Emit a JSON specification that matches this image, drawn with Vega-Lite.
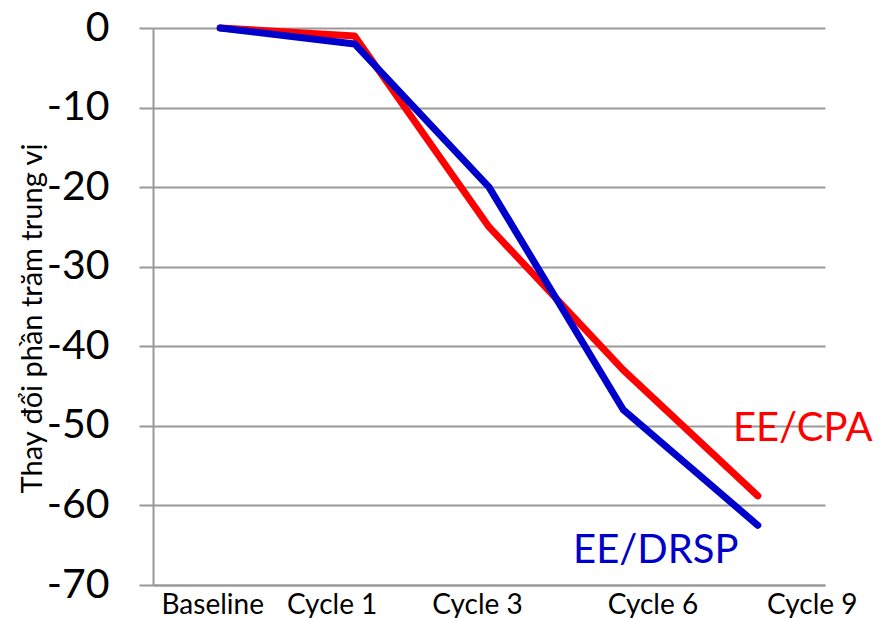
{
  "$schema": "https://vega.github.io/schema/vega-lite/v6.json",
  "autosize": "none",
  "width": 672,
  "height": 557,
  "padding": {"left": 153, "top": 28, "right": 59, "bottom": 33},
  "background": "white",
  "config": {
    "font": "Lato",
    "view": {"stroke": null}
  },
  "data": {
    "values": [
      {"cycle": "Baseline", "series": "EE/CPA", "change": 0},
      {"cycle": "Cycle 1", "series": "EE/CPA", "change": -1},
      {"cycle": "Cycle 3", "series": "EE/CPA", "change": -25},
      {"cycle": "Cycle 6", "series": "EE/CPA", "change": -43},
      {"cycle": "Cycle 9", "series": "EE/CPA", "change": -58.8},
      {"cycle": "Baseline", "series": "EE/DRSP", "change": 0},
      {"cycle": "Cycle 1", "series": "EE/DRSP", "change": -2},
      {"cycle": "Cycle 3", "series": "EE/DRSP", "change": -20},
      {"cycle": "Cycle 6", "series": "EE/DRSP", "change": -48},
      {"cycle": "Cycle 9", "series": "EE/DRSP", "change": -62.5}
    ]
  },
  "encoding": {
    "x": {
      "field": "cycle",
      "type": "ordinal",
      "sort": ["Baseline", "Cycle 1", "Cycle 3", "Cycle 6", "Cycle 9"],
      "scale": {"type": "point", "padding": 0.5},
      "axis": {
        "title": null,
        "labelAngle": 0,
        "labelFont": "Lato",
        "labelFontSize": 28,
        "labelColor": "black",
        "labelPadding": 6,
        "ticks": false,
        "domainColor": "#999999",
        "domainWidth": 2,
        "grid": false,
        "labelOffset": {
          "condition": [
            {"test": "datum.value === 'Baseline'", "value": -8},
            {"test": "datum.value === 'Cycle 1'", "value": -23},
            {"test": "datum.value === 'Cycle 3'", "value": -12},
            {"test": "datum.value === 'Cycle 6'", "value": 29}
          ],
          "value": 54
        }
      }
    },
    "y": {
      "field": "change",
      "type": "quantitative",
      "scale": {"domain": [-70, 0], "nice": false, "zero": false},
      "axis": {
        "title": "Thay đổi phần trăm trung vị",
        "titleFont": "Lato",
        "titleFontSize": 29,
        "titleFontWeight": "normal",
        "titleColor": "black",
        "titleX": -121,
        "titleY": 290,
        "titleAlign": "center",
        "titleBaseline": "middle",
        "titleAngle": 270,
        "values": [0, -10, -20, -30, -40, -50, -60, -70],
        "labelExpr": "datum.value == 0 ? '0' : '-' + abs(datum.value)",
        "labelFont": "Lato",
        "labelFontSize": 41,
        "labelColor": "black",
        "labelPadding": 30,
        "tickSize": 14,
        "tickColor": "#999999",
        "tickWidth": 2,
        "domainColor": "#999999",
        "domainWidth": 2,
        "gridColor": "#999999",
        "gridWidth": 2
      }
    }
  },
  "layer": [
    {
      "mark": {"type": "line", "strokeWidth": 7, "strokeCap": "round", "strokeJoin": "round"},
      "encoding": {
        "color": {
          "field": "series",
          "type": "nominal",
          "scale": {"domain": ["EE/CPA", "EE/DRSP"], "range": ["#FF0000", "#0000CC"]},
          "legend": null
        },
        "order": {"field": "series", "sort": "descending"}
      }
    },
    {
      "transform": [{"filter": "datum.series === 'EE/CPA' && datum.cycle === 'Cycle 9'"}],
      "mark": {"type": "text", "fontSize": 40, "font": "Lato", "color": "#FF0000", "dx": 45, "dy": -67, "align": "center", "baseline": "middle"},
      "encoding": {"text": {"field": "series"}}
    },
    {
      "transform": [{"filter": "datum.series === 'EE/DRSP' && datum.cycle === 'Cycle 9'"}],
      "mark": {"type": "text", "fontSize": 40, "font": "Lato", "color": "#0000CC", "dx": -102, "dy": 26, "align": "center", "baseline": "middle"},
      "encoding": {"text": {"field": "series"}}
    }
  ]
}
